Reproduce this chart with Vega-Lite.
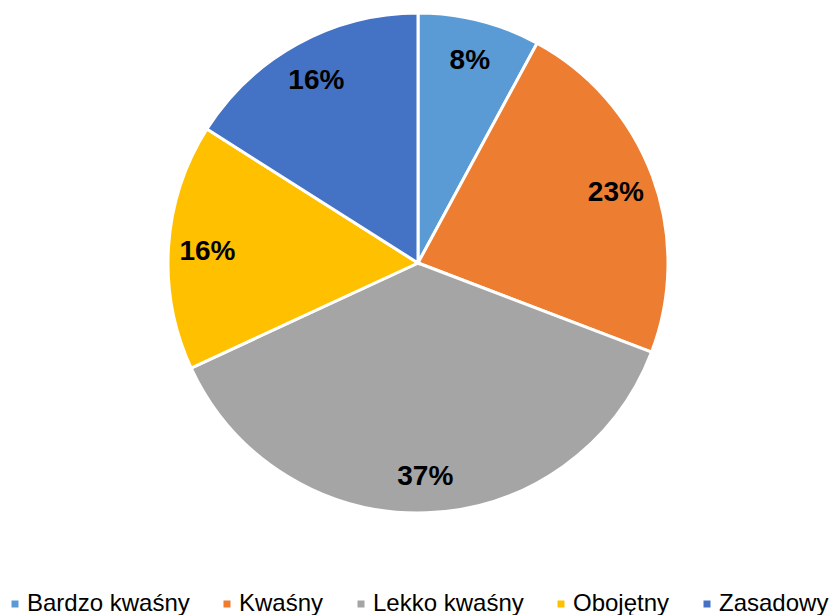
{
  "$schema": "https://vega.github.io/schema/vega-lite/v6.json",
  "width": 832,
  "height": 526,
  "padding": {"left": 2, "top": 0, "right": 0, "bottom": 0},
  "background": "white",
  "data": {
    "values": [
      {"kategoria": "Bardzo kwaśny", "udzial": 0.079},
      {"kategoria": "Kwaśny", "udzial": 0.229},
      {"kategoria": "Lekko kwaśny", "udzial": 0.373},
      {"kategoria": "Obojętny", "udzial": 0.159},
      {"kategoria": "Zasadowy", "udzial": 0.160}
    ]
  },
  "encoding": {
    "theta": {"field": "udzial", "type": "quantitative", "stack": true},
    "color": {
      "field": "kategoria",
      "type": "nominal",
      "scale": {
        "domain": ["Bardzo kwaśny", "Kwaśny", "Lekko kwaśny", "Obojętny", "Zasadowy"],
        "range": ["#5B9BD5", "#ED7D31", "#A5A5A5", "#FFC000", "#4472C4"]
      },
      "legend": {
        "title": null,
        "orient": "none",
        "direction": "horizontal",
        "columns": 5,
        "legendX": 1,
        "legendY": 592,
        "padding": 0,
        "symbolType": "square",
        "symbolSize": 49,
        "symbolStrokeWidth": 0,
        "labelFont": "Liberation Sans",
        "labelFontSize": 24,
        "labelColor": "#000000",
        "labelOffset": 0,
        "columnPadding": 25,
        "labelLimit": 300
      }
    },
    "order": {"field": "kategoria", "sort": "ascending"}
  },
  "layer": [
    {
      "mark": {"type": "arc", "outerRadius": 250, "stroke": "white", "strokeWidth": 3}
    },
    {
      "mark": {"type": "text", "radius": 211, "dy": 3, "font": "Liberation Sans", "fontSize": 28, "fontWeight": "bold", "baseline": "middle", "align": "center"},
      "encoding": {
        "text": {"field": "udzial", "type": "quantitative", "format": ".0%"},
        "color": {"value": "#000000"}
      }
    }
  ],
  "config": {"view": {"stroke": null}}
}
